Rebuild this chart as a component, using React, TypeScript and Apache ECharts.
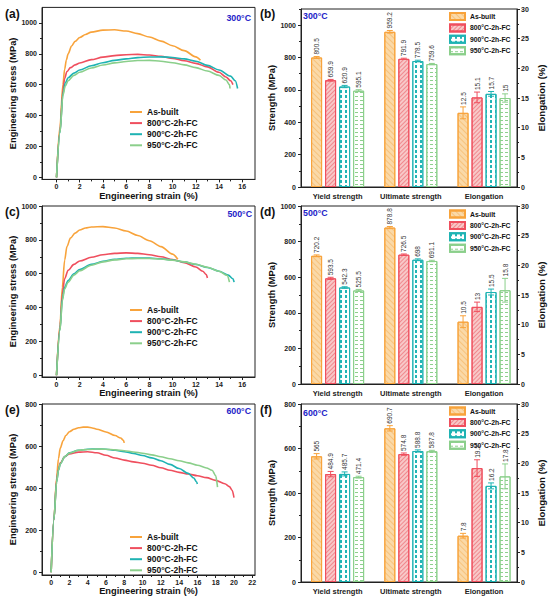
import React, { useEffect, useRef } from 'react';
import * as echarts from 'echarts';

// ---------- DATA ----------
const TREATMENTS = ['As-built', '800°C-2h-FC', '900°C-2h-FC', '950°C-2h-FC'];
const PROPERTY_LABELS = ['Yield strength', 'Ultimate strength', 'Elongation'];
const PROPERTY_POS = [1, 2, 3];

// stress-strain curves [strain %, stress MPa]
const AB_300 = [[0,0],[0.3,330],[0.55,600],[0.7,700],[0.85,760],[1,800],[1.3,850],[1.6,880],[2,905],[2.5,925],[3,940],[4,953],[5,955],[6,947],[7,930],[8,908],[9,882],[10,852],[11,820],[12,780],[12.4,758]];
const F800_300 = [[0,0],[0.3,300],[0.55,560],[0.7,640],[0.9,685],[1.2,710],[1.6,728],[2,740],[3,762],[4,778],[5,788],[6,794],[7,796],[8,792],[9,783],[10,770],[11,755],[12,738],[13,715],[14,680],[14.6,650],[15,625],[15.2,600]];
const F900_300 = [[0,0],[0.3,290],[0.55,540],[0.75,610],[1,645],[1.5,675],[2,695],[3,722],[4,742],[5,757],[6,767],[7,775],[8,779],[9,780],[10,776],[11,767],[12,752],[13,725],[14,695],[15,655],[15.4,625],[15.6,575]];
const F950_300 = [[0,0],[0.3,290],[0.55,530],[0.75,590],[1,625],[1.5,660],[2,680],[3,708],[4,727],[5,741],[6,750],[7,756],[8,757],[9,752],[10,742],[11,728],[12,710],[13,688],[14,660],[14.6,630],[14.9,600],[14.95,575]];

const AB_500 = [[0,0],[0.3,300],[0.5,520],[0.7,680],[0.9,760],[1.2,810],[1.6,840],[2,858],[2.5,870],[3,876],[4,878],[5,870],[6,852],[7,826],[8,795],[9,760],[10,716],[10.45,685]];
const F800_500 = [[0,0],[0.3,280],[0.5,480],[0.7,570],[1,620],[1.5,655],[2,675],[3,697],[4,712],[5,720],[6,723],[7,720],[8,712],[9,700],[10,684],[11,665],[12,640],[12.6,615],[12.9,595],[13,575]];
const F900_500 = [[0,0],[0.3,270],[0.5,450],[0.7,520],[1,560],[1.5,600],[2,625],[3,655],[4,673],[5,685],[6,691],[7,693],[8,692],[9,688],[10,681],[11,670],[12,655],[13,637],[14,615],[14.8,592],[15.2,570],[15.3,550]];
const F950_500 = [[0,0],[0.3,265],[0.5,440],[0.7,510],[1,550],[1.5,592],[2,618],[3,650],[4,670],[5,682],[6,688],[7,690],[8,690],[9,687],[10,680],[11,670],[12,656],[13,638],[14,615],[14.7,590],[14.9,550]];

const AB_600 = [[0,0],[0.3,250],[0.6,450],[0.8,540],[1,590],[1.3,625],[1.6,650],[2,668],[2.5,680],[3,687],[3.5,690],[4,690],[4.5,686],[5,680],[6,667],[7,650],[7.6,638],[7.9,628],[8,615]];
const F800_600 = [[0,0],[0.3,250],[0.6,440],[0.8,490],[1,520],[1.5,550],[2,563],[3,571],[4,573],[5,568],[6,556],[7,543],[8,533],[9,525],[10,518],[11,509],[12,497],[13,485],[14,475],[15,467],[16,459],[17,450],[18,437],[19,421],[19.5,407],[19.8,390],[20,355]];
const F900_600 = [[0,0],[0.3,250],[0.6,430],[0.8,485],[1,515],[1.5,550],[2,568],[3,580],[4,585],[5,586],[6,585],[7,580],[8,573],[9,565],[10,555],[11,544],[12,530],[13,513],[14,493],[15,470],[15.6,448],[15.9,430],[16,420]];
const F950_600 = [[0,0],[0.3,250],[0.6,430],[0.8,485],[1,515],[1.5,550],[2,567],[3,580],[4,584],[5,586],[6,585],[7,582],[8,578],[9,572],[10,566],[11,558],[12,549],[13,540],[14,530],[15,520],[16,509],[17,496],[17.6,485],[18,460],[18.2,405]];

// bar values (per treatment) and error half-widths
const YIELD_300 = [800.5, 659.9, 620.9, 595.1];
const YIELD_ERR_300 = [6, 5, 7, 6];
const UTS_300 = [959.2, 791.9, 778.5, 759.6];
const UTS_ERR_300 = [8, 4, 5, 4];
const ELONG_300 = [12.5, 15.1, 15.7, 15];
const ELONG_ERR_300 = [1.0, 0.9, 0.4, 0.7];

const YIELD_500 = [720.2, 593.5, 542.3, 525.5];
const YIELD_ERR_500 = [5, 6, 4, 6];
const UTS_500 = [878.8, 726.5, 698, 691.1];
const UTS_ERR_500 = [6, 4, 5, 4];
const ELONG_500 = [10.5, 13, 15.5, 15.8];
const ELONG_ERR_500 = [1.0, 0.8, 0.5, 2.0];

const YIELD_600 = [565, 484.9, 485.7, 471.4];
const YIELD_ERR_600 = [12, 12, 9, 4];
const UTS_600 = [690.7, 574.8, 588.8, 587.8];
const UTS_ERR_600 = [12, 5, 5, 4];
const ELONG_600 = [7.8, 19.2, 16.2, 17.8];
const ELONG_ERR_600 = [0.4, 1.4, 0.5, 2.1];

// tick labels
const STRAIN_TICKS_16 = [0, 2, 4, 6, 8, 10, 12, 14, 16];
const STRAIN_TICKS_22 = [0, 2, 4, 6, 8, 10, 12, 14, 16, 18, 20, 22];
const STRESS_TICKS_1000 = [0, 200, 400, 600, 800, 1000];
const STRESS_TICKS_800 = [0, 200, 400, 600, 800];
const ELONG_TICKS = [0, 5, 10, 15, 20, 25, 30];

// ---------- STYLE ----------
const FONT = '"Liberation Sans", Arial, Helvetica, sans-serif';
const COLORS = ['#F8A33B', '#EF4F5E', '#1FB3B3', '#8BCF8B'];
const FILLS = ['#FAD9A8', '#F8C8C8', '#FFFFFF', '#FFFFFF'];
const DECALS = [
  { symbol: 'rect', symbolSize: 1, color: 'rgba(240,150,40,0.35)', dashArrayX: [1, 0], dashArrayY: [1, 3], rotation: Math.PI / 4 },
  { symbol: 'rect', symbolSize: 1, color: 'rgba(230,60,70,0.45)', dashArrayX: [1, 0], dashArrayY: [1, 2], rotation: -Math.PI / 4 },
  { symbol: 'rect', symbolSize: 1, color: '#22B5B5', dashArrayX: [[1.5, 2.5]], dashArrayY: [3, 2], rotation: 0 },
  { symbol: 'rect', symbolSize: 1, color: '#8DD08D', dashArrayX: [[3, 2]], dashArrayY: [1, 3], rotation: 0 },
];
const BLUE = '#2323C8';
const AXIS_COLOR = '#222';
const BAR_W = 11;
const BAR_GAP_PX = 3;

const midpoints = (arr) => arr.slice(1).map((v, i) => (v + arr[i]) / 2);
const plain = (v) => String(v);

const LINE_PANELS = [
  { key: 'a', letter: '(a)', temp: '300°C', box: [42, 7.4, 213, 172], x: [-1.25, 17.1], xTicks: STRAIN_TICKS_16, y: [-13, 1100], yTicks: STRESS_TICKS_1000,
    curves: [AB_300, F800_300, F900_300, F950_300], legendTop: 107.5, letterPos: [5, 14], tempPos: [251, 17.7] },
  { key: 'c', letter: '(c)', temp: '500°C', box: [42, 206, 213, 171], x: [-1.25, 17.1], xTicks: STRAIN_TICKS_16, y: [-10, 1000], yTicks: STRESS_TICKS_1000,
    curves: [AB_500, F800_500, F900_500, F950_500], legendTop: 305.5, letterPos: [5, 211.7], tempPos: [252, 214] },
  { key: 'e', letter: '(e)', temp: '600°C', box: [42, 404, 213, 171], x: [-1, 22.3], xTicks: STRAIN_TICKS_22, y: [-13, 800], yTicks: STRESS_TICKS_800,
    curves: [AB_600, F800_600, F900_600, F950_600], legendTop: 532.5, letterPos: [5, 410], tempPos: [251, 410.7] },
];

const BAR_PANELS = [
  { key: 'b', letter: '(b)', temp: '300°C', box: [301, 9, 216, 178], yMax: 1100, yTicks: STRESS_TICKS_1000,
    yieldV: YIELD_300, yieldE: YIELD_ERR_300, uts: UTS_300, utsE: UTS_ERR_300, el: ELONG_300, elE: ELONG_ERR_300,
    legendTop: 12, letterPos: [260, 14], tempPos: [303, 16] },
  { key: 'd', letter: '(d)', temp: '500°C', box: [301, 206, 216, 178], yMax: 1000, yTicks: STRESS_TICKS_1000,
    yieldV: YIELD_500, yieldE: YIELD_ERR_500, uts: UTS_500, utsE: UTS_ERR_500, el: ELONG_500, elE: ELONG_ERR_500,
    legendTop: 209.5, letterPos: [260, 211.7], tempPos: [303, 213.3] },
  { key: 'f', letter: '(f)', temp: '600°C', box: [301, 404, 216, 178], yMax: 800, yTicks: STRESS_TICKS_800,
    yieldV: YIELD_600, yieldE: YIELD_ERR_600, uts: UTS_600, utsE: UTS_ERR_600, el: ELONG_600, elE: ELONG_ERR_600,
    legendTop: 406.5, letterPos: [260, 410], tempPos: [303, 413] },
];

const tickLabelStyle = { fontFamily: FONT, fontSize: 7, fontWeight: 'bold', color: AXIS_COLOR, formatter: plain };
const nameStyle = { fontFamily: FONT, fontSize: 9.3, fontWeight: 'bold', color: '#111' };

function mainValueAxis(gridIndex, min, max, ticks, extra) {
  return Object.assign({
    type: 'value', gridIndex, min, max,
    axisLine: { show: true, onZero: false, lineStyle: { color: AXIS_COLOR, width: 1 } },
    axisTick: { show: true, inside: false, length: 3, customValues: ticks, lineStyle: { color: AXIS_COLOR, width: 1 } },
    axisLabel: Object.assign({ customValues: ticks, margin: 5 }, tickLabelStyle),
    splitLine: { show: false },
  }, extra || {});
}
function minorAxis(gridIndex, min, max, ticks, position) {
  return {
    type: 'value', gridIndex, min, max, position,
    axisLine: { show: false, onZero: false },
    axisTick: { show: true, inside: false, length: 2, customValues: ticks, lineStyle: { color: AXIS_COLOR, width: 1 } },
    axisLabel: { show: false },
    splitLine: { show: false },
  };
}

function buildOption() {
  const grid = [];
  const xAxis = [];
  const yAxis = [];
  const series = [];
  const legend = [];
  const graphic = [];

  LINE_PANELS.forEach((p) => {
    const gi = grid.length;
    grid.push({ left: p.box[0], top: p.box[1], width: p.box[2], height: p.box[3], show: true, borderColor: AXIS_COLOR, borderWidth: 1, containLabel: false, outerBoundsMode: 'none' });
    const xi = xAxis.length;
    xAxis.push(mainValueAxis(gi, p.x[0], p.x[1], p.xTicks, {
      position: 'bottom', name: 'Engineering strain (%)', nameLocation: 'middle', nameGap: 9.5, nameTextStyle: nameStyle,
      axisLabel: Object.assign({ customValues: p.xTicks, margin: 4 }, tickLabelStyle),
    }));
    xAxis.push(minorAxis(gi, p.x[0], p.x[1], midpoints(p.xTicks), 'bottom'));
    const yi = yAxis.length;
    yAxis.push(mainValueAxis(gi, p.y[0], p.y[1], p.yTicks, {
      position: 'left', name: 'Engineering stress (MPa)', nameLocation: 'middle', nameRotate: 90, nameGap: 25, nameTextStyle: nameStyle,
    }));
    yAxis.push(minorAxis(gi, p.y[0], p.y[1], midpoints(p.yTicks), 'left'));

    p.curves.forEach((c, t) => {
      series.push({
        type: 'line', name: p.key + '|' + TREATMENTS[t], xAxisIndex: xi, yAxisIndex: yi, data: c,
        symbol: 'none', showSymbol: false, smooth: 0.3, smoothMonotone: 'x',
        lineStyle: { color: COLORS[t], width: 1.6 }, itemStyle: { color: COLORS[t] },
      });
    });
    legend.push({
      orient: 'vertical', left: 130, top: p.legendTop, padding: 0, itemWidth: 12, itemHeight: 2, itemGap: 2.1,
      icon: 'rect', selectedMode: false, data: TREATMENTS.map((n) => p.key + '|' + n),
      formatter: (n) => n.split('|')[1],
      textStyle: { fontFamily: FONT, fontSize: 8.5, fontWeight: 'bold', color: '#111' },
    });
    graphic.push({ type: 'text', x: p.letterPos[0], y: p.letterPos[1], style: { text: p.letter, font: 'bold 12px ' + FONT, fill: '#111', align: 'left', verticalAlign: 'middle' } });
    graphic.push({ type: 'text', x: p.tempPos[0], y: p.tempPos[1], style: { text: p.temp, font: 'bold 8.8px ' + FONT, fill: BLUE, align: 'right', verticalAlign: 'middle' } });
  });

  BAR_PANELS.forEach((p) => {
    const gi = grid.length;
    grid.push({ left: p.box[0], top: p.box[1], width: p.box[2], height: p.box[3], show: true, borderColor: AXIS_COLOR, borderWidth: 1, containLabel: false, outerBoundsMode: 'none' });
    const xi = xAxis.length;
    xAxis.push({
      type: 'value', gridIndex: gi, min: 0.5, max: 3.45, position: 'bottom',
      axisLine: { show: true, onZero: false, lineStyle: { color: AXIS_COLOR, width: 1 } },
      axisTick: { show: false },
      axisLabel: { customValues: PROPERTY_POS, formatter: (v) => PROPERTY_LABELS[Math.round(v) - 1] || '', margin: 5, fontFamily: FONT, fontSize: 7.5, fontWeight: 'bold', color: AXIS_COLOR },
      splitLine: { show: false },
    });
    const yl = yAxis.length;
    yAxis.push(mainValueAxis(gi, 0, p.yMax, p.yTicks, {
      position: 'left', name: 'Strength (MPa)', nameLocation: 'middle', nameRotate: 90, nameGap: 25, nameTextStyle: nameStyle,
    }));
    const yr = yAxis.length;
    yAxis.push(mainValueAxis(gi, 0, 30, ELONG_TICKS, {
      position: 'right', name: 'Elongation (%)', nameLocation: 'middle', nameRotate: 90, nameGap: 19,
      nameTextStyle: Object.assign({}, nameStyle, { fontSize: 9.6 }),
      axisLabel: Object.assign({ customValues: ELONG_TICKS, margin: 4 }, tickLabelStyle),
    }));
    yAxis.push(minorAxis(gi, 0, p.yMax, p.yTicks.map((v) => v + 100), 'left'));
    yAxis.push(minorAxis(gi, 0, 30, midpoints(ELONG_TICKS), 'right'));

    const strengthErr = [];
    const elongErr = [];
    TREATMENTS.forEach((name, t) => {
      const common = {
        type: 'bar', name: p.key + '|' + name, xAxisIndex: xi, stack: p.key + 'stack' + t,
        barWidth: BAR_W, barGap: (BAR_GAP_PX / BAR_W * 100).toFixed(1) + '%',
        itemStyle: { color: FILLS[t], borderColor: COLORS[t], borderWidth: 1, decal: DECALS[t] },
        emphasis: { disabled: true },
      };
      series.push(Object.assign({}, common, { yAxisIndex: yl, data: [[PROPERTY_POS[0], p.yieldV[t]], [PROPERTY_POS[1], p.uts[t]]] }));
      series.push(Object.assign({}, common, { yAxisIndex: yr, data: [[PROPERTY_POS[2], p.el[t]]] }));
      strengthErr.push([PROPERTY_POS[0], p.yieldV[t], p.yieldE[t], t]);
      strengthErr.push([PROPERTY_POS[1], p.uts[t], p.utsE[t], t]);
      elongErr.push([PROPERTY_POS[2], p.el[t], p.elE[t], t]);
    });

    const renderErr = (params, api) => {
      const x = api.value(0);
      const v = api.value(1);
      const e = api.value(2);
      const t = api.value(3);
      const off = (t - 1.5) * (BAR_W + BAR_GAP_PX);
      const top = api.coord([x, v + e]);
      const bot = api.coord([x, v - e]);
      const cx = top[0] + off;
      const col = COLORS[t];
      const ls = { stroke: col, lineWidth: 1 };
      return {
        type: 'group',
        children: [
          { type: 'line', shape: { x1: cx, y1: top[1], x2: cx, y2: bot[1] }, style: ls },
          { type: 'line', shape: { x1: cx - 3, y1: top[1], x2: cx + 3, y2: top[1] }, style: ls },
          { type: 'line', shape: { x1: cx - 3, y1: bot[1], x2: cx + 3, y2: bot[1] }, style: ls },
          { type: 'text', x: cx, y: top[1] - 2, rotation: Math.PI / 2,
            style: { text: String(v), font: '6.5px ' + FONT, fill: '#333', align: 'left', verticalAlign: 'middle' } },
        ],
      };
    };
    series.push({ type: 'custom', name: p.key + 'errS', xAxisIndex: xi, yAxisIndex: yl, data: strengthErr, renderItem: renderErr, z: 5, silent: true });
    series.push({ type: 'custom', name: p.key + 'errE', xAxisIndex: xi, yAxisIndex: yr, data: elongErr, renderItem: renderErr, z: 5, silent: true });

    legend.push({
      orient: 'vertical', left: 449, top: p.legendTop, padding: 0, itemWidth: 15, itemHeight: 7, itemGap: 2.4,
      icon: 'rect', selectedMode: false, data: TREATMENTS.map((n) => p.key + '|' + n),
      formatter: (n) => n.split('|')[1],
      textStyle: { fontFamily: FONT, fontSize: 6.8, fontWeight: 'bold', color: '#111' },
    });
    graphic.push({ type: 'text', x: p.letterPos[0], y: p.letterPos[1], style: { text: p.letter, font: 'bold 12px ' + FONT, fill: '#111', align: 'left', verticalAlign: 'middle' } });
    graphic.push({ type: 'text', x: p.tempPos[0], y: p.tempPos[1], style: { text: p.temp, font: 'bold 8.8px ' + FONT, fill: BLUE, align: 'left', verticalAlign: 'middle' } });
  });

  return {
    animation: false,
    backgroundColor: '#ffffff',
    textStyle: { fontFamily: FONT },
    grid, xAxis, yAxis, series, legend, graphic,
  };
}

export default function App() {
  const ref = useRef(null);
  useEffect(() => {
    document.body.style.margin = '0';
    const chart = echarts.init(ref.current, null, { renderer: 'svg' });
    chart.setOption(buildOption());
    return () => chart.dispose();
  }, []);
  return <div ref={ref} style={{ width: 550, height: 600 }} />;
}
